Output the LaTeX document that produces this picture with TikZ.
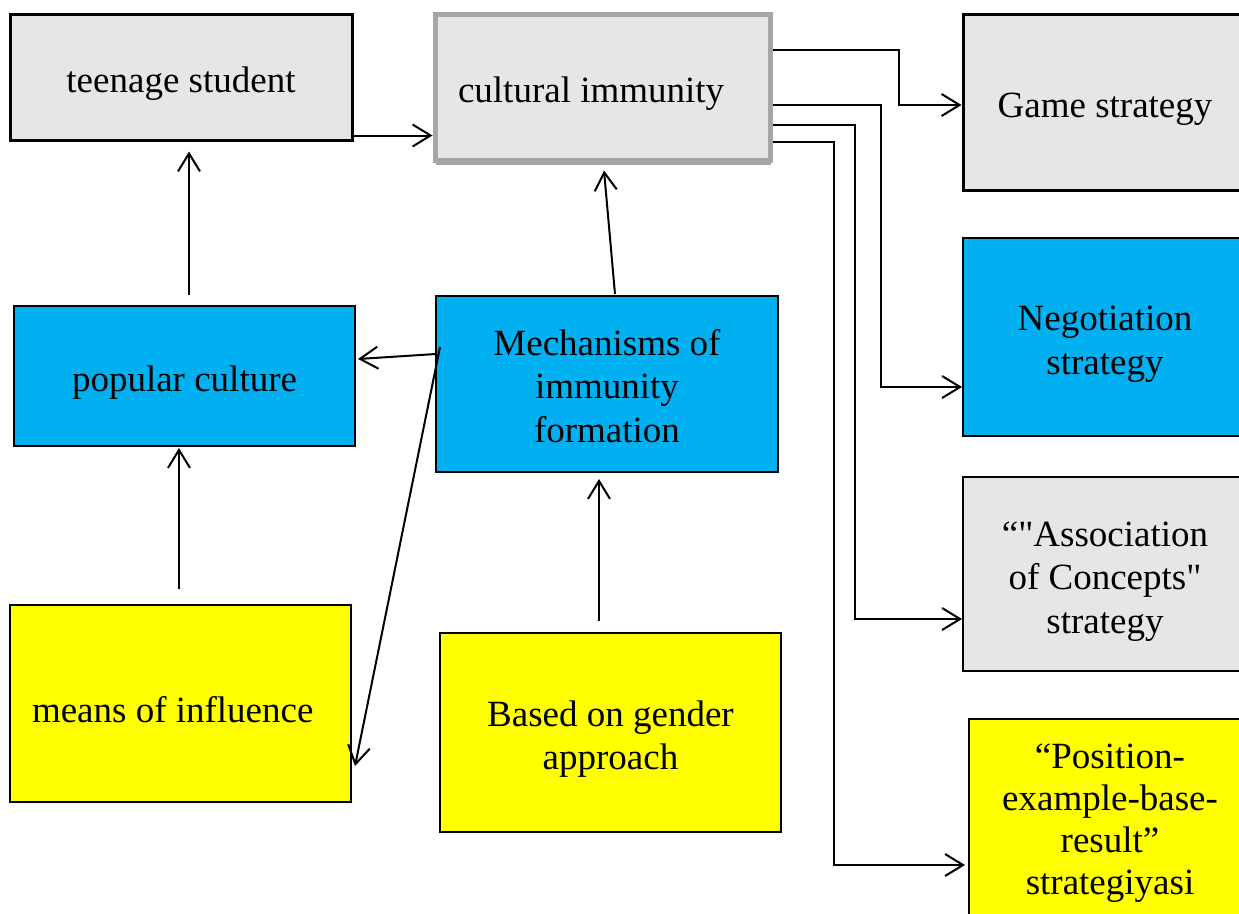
\documentclass[tikz,border=0pt]{standalone}
\usepackage{fontspec}
\setmainfont{Liberation Serif}[Ligatures=TeXOff]
\usetikzlibrary{arrows.meta,shadows}
\definecolor{boxgray}{HTML}{E6E6E6}
\definecolor{boxcyan}{HTML}{00B0F0}
\definecolor{boxyellow}{HTML}{FFFF00}
\definecolor{bordgray}{HTML}{A6A6A6}
\tikzset{
  box/.style={draw=black, line width=2pt, rectangle, inner sep=0pt, align=flush center,
    font=\fontsize{37}{43.5}\selectfont, tdrop=39pt},
  tdrop/.style={execute at begin node={\rule{0pt}{#1}}},
  tend/.style={execute at end node={\rule[-#1]{0pt}{#1}}},
  multi/.style={text width=280pt},
  thickbox/.style={box, line width=3pt},
  graybox/.style={fill=boxgray},
  cyanbox/.style={fill=boxcyan},
  yellowbox/.style={fill=boxyellow},
  arr/.style={line width=2pt, -{Straight Barb[length=18pt,width=22pt]}},
}
\begin{document}
\begin{tikzpicture}[x=1pt,y=-1pt]
\clip (0,0) rectangle (1239,913);
\fill[white] (0,0) rectangle (1239,913);
% nodes
\node[thickbox,graybox,minimum width=342pt,minimum height=126pt] (teen) at (181,77) {teenage student};
\node[box,graybox,draw=bordgray,line width=5pt,minimum width=335pt,minimum height=146pt,
  text width=289pt,align=flush left,
  drop shadow={shadow xshift=1pt,shadow yshift=-5pt,fill=black,opacity=0.35}] (cult) at (602.5,87) {cultural immunity};
\node[thickbox,graybox,minimum width=284pt,minimum height=176pt] (game) at (1105,102) {Game strategy};
\node[box,multi,cyanbox,minimum width=284pt,minimum height=198pt] (nego) at (1105,337) {Negotiation\\strategy};
\node[box,multi,graybox,minimum width=284pt,minimum height=194pt] (assoc) at (1105,574) {“"Association\\of Concepts"\\strategy};
\node[box,multi,yellowbox,minimum width=282pt,minimum height=208pt,tdrop=31pt,tend=22pt,
  font=\fontsize{37}{42}\selectfont] (pos) at (1110,823) {“Position-\\example-base-\\result”\\strategiyasi};
\node[box,multi,cyanbox,minimum width=342pt,minimum height=176pt,tdrop=21pt,tend=10pt] (mech) at (607,384) {Mechanisms of\\immunity\\formation};
\node[box,multi,yellowbox,minimum width=341pt,minimum height=199pt] (gender) at (610.5,732.5) {Based on gender\\approach};
\node[box,cyanbox,minimum width=341pt,minimum height=140pt] (pop) at (184.5,376) {popular culture};
\node[box,yellowbox,minimum width=341pt,minimum height=197pt,text width=297pt,align=flush left,tdrop=30pt] (means) at (180.5,703.5) {means of influence};
% connectors
\draw[arr] ([yshift=6pt]teen.south east) -- ([yshift=6pt]teen.south east -| cult.west);
\draw[arr] ([xshift=4.5pt,yshift=10pt]pop.north) -- ([xshift=8pt,yshift=-10pt]teen.south);
\draw[arr] ([xshift=-1.5pt,yshift=15pt]means.north) -- ([xshift=-5.5pt,yshift=-1pt]pop.south);
\draw[arr] ([xshift=8pt,yshift=1pt]mech.north) -- ([xshift=1.5pt,yshift=-8pt]cult.south);
\draw[arr] ([xshift=-11.5pt,yshift=11pt]gender.north) -- ([xshift=-8pt,yshift=-6pt]mech.south);
\draw[arr] ([xshift=1pt,yshift=30pt]mech.west) -- ([xshift=2pt,yshift=17pt]pop.east);
\draw[arr] ([xshift=5pt,yshift=37pt]mech.west) -- ([xshift=3pt,yshift=-62.5pt]means.east);
\draw[arr] ([yshift=-38pt]cult.north east) -| ([xshift=-63pt,yshift=-3pt]game.west) -- ([yshift=-3pt]game.west);
\draw[arr] ([yshift=-93pt]cult.north east) -| ([xshift=-81pt,yshift=-50pt]nego.west) -- ([yshift=-50pt]nego.west);
\draw[arr] ([yshift=-113pt]cult.north east) -| ([xshift=-107pt,yshift=-45pt]assoc.west) -- ([yshift=-45pt]assoc.west);
\draw[arr] ([yshift=-130pt]cult.north east) -| ([xshift=-134pt,yshift=-42pt]pos.west) -- ([xshift=-3pt,yshift=-42pt]pos.west);
\end{tikzpicture}
\end{document}
